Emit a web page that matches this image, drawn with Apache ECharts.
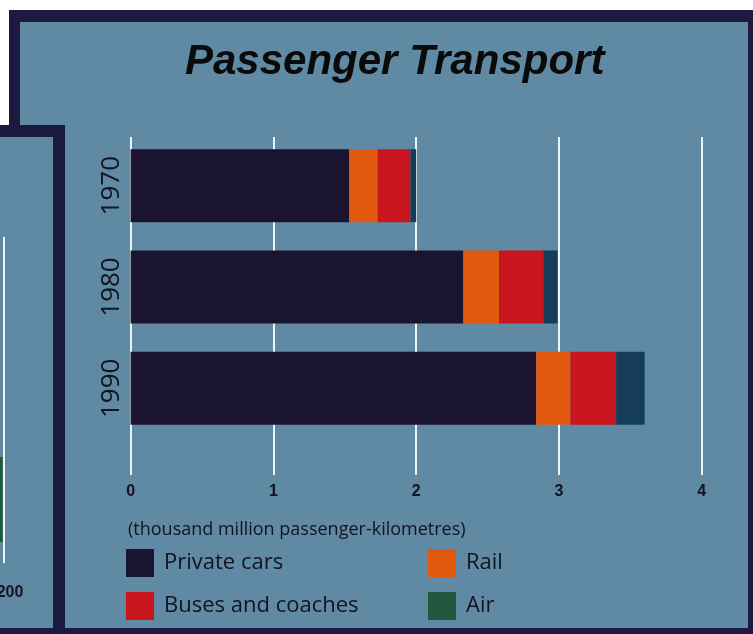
<!DOCTYPE html>
<html>
<head>
<meta charset="utf-8">
<script src="https://cdn.jsdelivr.net/npm/echarts@6/dist/echarts.min.js"></script>
<style>
html,body{margin:0;padding:0;background:#ffffff;}
#chart{width:753px;height:634px;}
</style>
</head>
<body>
<div id="chart"></div>
<script>
// ---- data ----
var categories = ['1970', '1980', '1990'];
var privateCars = [1.53, 2.33, 2.84];
var rail = [0.20, 0.25, 0.24];
var buses = [0.23, 0.31, 0.32];
var air = [0.04, 0.10, 0.20];
var xTickMin = 0, xTickMax = 4, xTickStep = 1;
// neighbouring (cut-off) panel on the left: only its last tick (200) and the end of one bar are visible
var leftPanelCategories = [''];
var leftPanelAir = [198];
var leftPanelTick = 200;

var BG = '#608aa3';
var BORDER = '#1d1940';
var TEXT = '#131220';

var chart = echarts.init(document.getElementById('chart'), null, {renderer: 'canvas'});

var option = {
  backgroundColor: '#ffffff',
  animation: false,
  title: [
    {
      text: 'Passenger Transport',
      left: 180, top: 36,
      textStyle: {fontFamily: 'Liberation Sans', fontStyle: 'italic', fontWeight: 'bold', fontSize: 42, color: '#0a0a0a'}
    },
    {
      text: '(thousand million passenger-kilometres)',
      left: 123, top: 516,
      textStyle: {fontFamily: 'Open Sans', fontWeight: 'normal', fontSize: 18, color: TEXT}
    }
  ],
  graphic: [
    // main panel
    {type: 'rect', z: -100, shape: {x: 9, y: 10, width: 760, height: 640}, style: {fill: BORDER}},
    {type: 'rect', z: -99, shape: {x: 20, y: 22, width: 728, height: 606}, style: {fill: BG}},
    // overlapping left panel
    {type: 'rect', z: -98, shape: {x: -20, y: 125, width: 85, height: 520}, style: {fill: BORDER}},
    {type: 'rect', z: -97, shape: {x: -20, y: 137, width: 73, height: 491}, style: {fill: BG}}
  ],
  legend: [
    {
      orient: 'vertical', left: 121, top: 544,
      itemWidth: 28, itemHeight: 28, itemGap: 15, icon: 'rect',
      textStyle: {fontFamily: 'Open Sans', fontSize: 22, color: TEXT, padding: [0, 0, 0, 5]},
      data: ['Private cars', 'Buses and coaches']
    },
    {
      orient: 'vertical', left: 423, top: 544,
      itemWidth: 28, itemHeight: 28, itemGap: 15, icon: 'rect',
      textStyle: {fontFamily: 'Open Sans', fontSize: 22, color: TEXT, padding: [0, 0, 0, 5]},
      data: ['Rail', {name: 'Air', itemStyle: {color: '#23573f'}}]
    }
  ],
  grid: [
    {left: 130.6, width: 571.2, top: 135, height: 304, containLabel: false, outerBoundsMode: 'none'},
    {left: 130.6, width: 571.2, top: 137, height: 338, containLabel: false, outerBoundsMode: 'none'},
    {left: 4, width: 40, top: 237, height: 326, containLabel: false, outerBoundsMode: 'none'},
    {left: 0, width: 4, top: 457, height: 85, containLabel: false, outerBoundsMode: 'none'}
  ],
  xAxis: [
    {gridIndex: 0, type: 'value', min: xTickMin, max: xTickMax, interval: xTickStep,
     axisLine: {show: false}, axisTick: {show: false}, axisLabel: {show: false}, splitLine: {show: false}},
    {gridIndex: 1, type: 'value', min: xTickMin, max: xTickMax, interval: xTickStep,
     axisLine: {show: false}, axisTick: {show: false},
     axisLabel: {margin: 9, fontFamily: 'Liberation Sans', fontWeight: 'bold', fontSize: 16, color: TEXT},
     splitLine: {show: true, lineStyle: {color: '#eef4f6', width: 2}}},
    {gridIndex: 2, type: 'value', min: leftPanelTick, max: leftPanelTick + 50, interval: 50,
     axisLine: {show: false}, axisTick: {show: false},
     axisLabel: {margin: 22, showMaxLabel: false, fontFamily: 'Liberation Sans', fontWeight: 'bold', fontSize: 16, color: TEXT, padding: [0, 0, 0, 12]},
     splitLine: {show: true, showMaxLine: false, lineStyle: {color: '#eef4f6', width: 2}}},
    {gridIndex: 3, type: 'value', min: 194, max: leftPanelTick,
     axisLine: {show: false}, axisTick: {show: false}, axisLabel: {show: false}, splitLine: {show: false}}
  ],
  yAxis: [
    {gridIndex: 0, type: 'category', data: categories, inverse: true,
     axisLine: {show: false}, axisTick: {show: false},
     axisLabel: {rotate: 90, margin: 6, fontFamily: 'Open Sans', fontSize: 26, color: TEXT}},
    {gridIndex: 1, type: 'category', data: categories, show: false},
    {gridIndex: 2, type: 'category', data: leftPanelCategories, show: false},
    {gridIndex: 3, type: 'category', data: leftPanelCategories, show: false}
  ],
  series: [
    {name: 'Private cars', type: 'bar', stack: 'total', xAxisIndex: 0, yAxisIndex: 0, barWidth: 73,
     itemStyle: {color: '#1a1430'}, data: privateCars},
    {name: 'Rail', type: 'bar', stack: 'total', xAxisIndex: 0, yAxisIndex: 0, barWidth: 73,
     itemStyle: {color: '#e0590f'}, data: rail},
    {name: 'Buses and coaches', type: 'bar', stack: 'total', xAxisIndex: 0, yAxisIndex: 0, barWidth: 73,
     itemStyle: {color: '#c9151d'}, data: buses},
    {name: 'Air', type: 'bar', stack: 'total', xAxisIndex: 0, yAxisIndex: 0, barWidth: 73,
     itemStyle: {color: '#153d5a'}, data: air},
    {name: 'leftAir', type: 'bar', xAxisIndex: 3, yAxisIndex: 3, barWidth: '100%', clip: true,
     itemStyle: {color: '#1f5a3c'}, data: leftPanelAir, silent: true}
  ]
};
chart.setOption(option);
</script>
</body>
</html>
